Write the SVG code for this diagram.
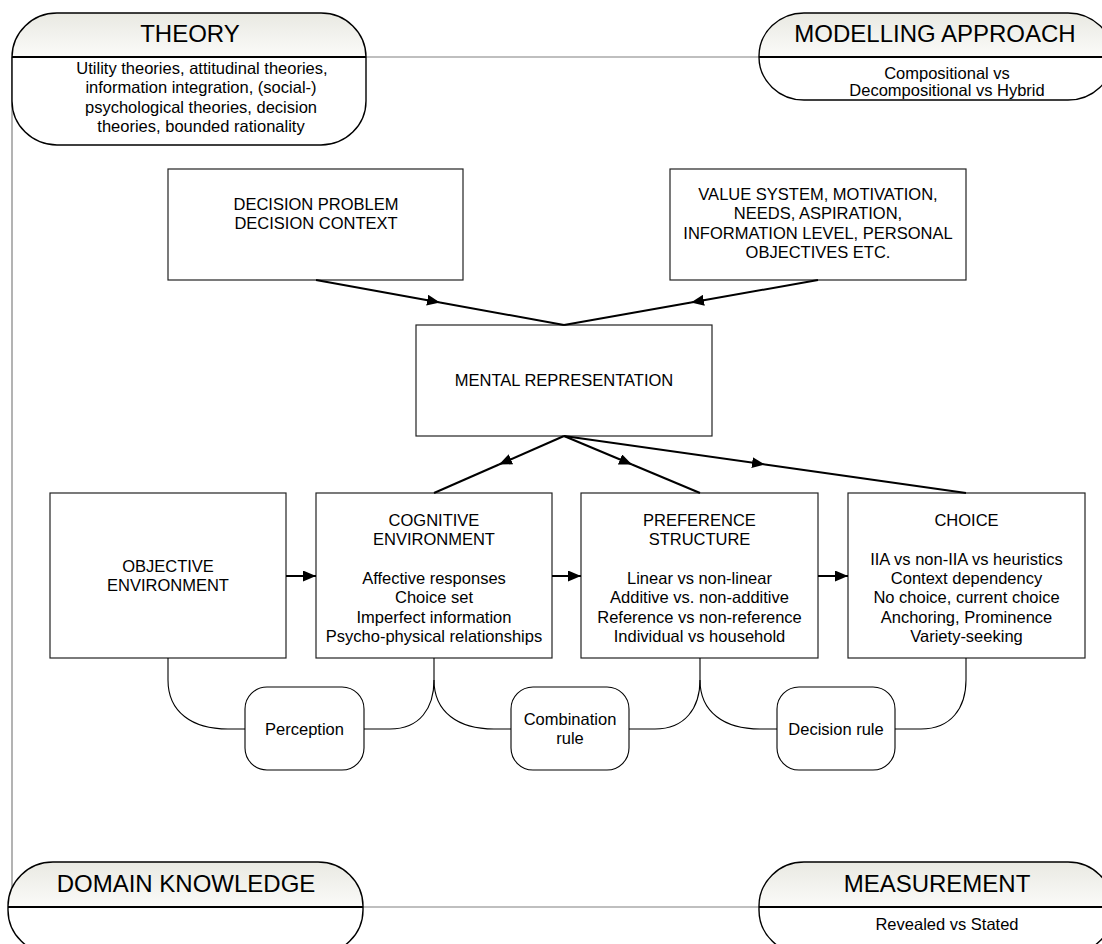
<svg xmlns="http://www.w3.org/2000/svg" width="1102" height="944" viewBox="0 0 1102 944">
<style>
  text { font-family: "Liberation Sans", Arial, sans-serif; fill: #000; }
  .title { font-size: 24px; text-anchor: middle; }
  .sub { font-size: 16.5px; text-anchor: middle; }
  .txt { font-size: 16.5px; text-anchor: middle; }
  .box { fill: #fff; stroke: #222; stroke-width: 1.2; }
  .rbox { fill: #fff; stroke: #000; stroke-width: 1.1; }
  .outline { fill: none; stroke: #000; stroke-width: 1.4; }
  .bg { fill: #fff; stroke: none; }
  .head { fill: url(#hg); stroke: none; }
  .div { stroke: #000; stroke-width: 2; }
  .frame { fill: none; stroke: #808080; stroke-width: 1.2; }
  .arr { fill: none; stroke: #000; stroke-width: 2; }
  .brk { fill: none; stroke: #000; stroke-width: 1.1; }
</style>
<defs>
  <linearGradient id="hg" x1="0" y1="0" x2="0" y2="1">
    <stop offset="0" stop-color="#e9e9e2"/>
    <stop offset="1" stop-color="#fbfbf9"/>
  </linearGradient>
  <marker id="ah" markerUnits="userSpaceOnUse" markerWidth="14" markerHeight="11" refX="13" refY="5.5" orient="auto">
    <path d="M0,0 L13,5.5 L0,11 Z" fill="#000"/>
  </marker>
</defs>
<rect width="1102" height="944" fill="#fff"/>

<g id="frame">
  <path class="frame" d="M366,57 H759"/>
  <path class="frame" d="M12,57 V900"/>
  <path class="frame" d="M363,907 H759"/>
</g>

<g id="theory">
  <rect class="bg" x="12" y="13" width="354" height="132" rx="45" ry="44"/>
  <path class="head" d="M12,57 A45,44 0 0 1 57,13 H321 A45,44 0 0 1 366,57 Z"/>
  <line class="div" x1="12" y1="57" x2="366" y2="57"/>
  <rect class="outline" x="12" y="13" width="354" height="132" rx="45" ry="44"/>
  <text class="title" x="190" y="42">THEORY</text>
  <text class="sub" x="202" y="74">Utility theories, attitudinal theories,</text>
  <text class="sub" x="201" y="93.3">information integration, (social-)</text>
  <text class="sub" x="201" y="112.6">psychological theories, decision</text>
  <text class="sub" x="201" y="132">theories, bounded rationality</text>
</g>

<g id="modelling">
  <rect class="bg" x="759" y="13" width="354" height="87" rx="45" ry="43"/>
  <path class="head" d="M759,56 A45,43 0 0 1 804,13 H1068 A45,43 0 0 1 1113,56 V57 H759 Z"/>
  <line class="div" x1="759" y1="57" x2="1113" y2="57"/>
  <rect class="outline" x="759" y="13" width="354" height="87" rx="45" ry="43"/>
  <text class="title" x="935" y="42">MODELLING APPROACH</text>
  <text class="sub" x="947" y="79">Compositional vs</text>
  <text class="sub" x="947" y="96">Decompositional vs Hybrid</text>
</g>

<g id="domain">
  <rect class="bg" x="8" y="862" width="355" height="92" rx="45" ry="44"/>
  <path class="head" d="M8,906 A45,44 0 0 1 53,862 H318 A45,44 0 0 1 363,906 V907 H8 Z"/>
  <line class="div" x1="8" y1="907" x2="363" y2="907"/>
  <rect class="outline" x="8" y="862" width="355" height="92" rx="45" ry="44"/>
  <text class="title" x="186" y="892">DOMAIN KNOWLEDGE</text>
</g>

<g id="measurement">
  <rect class="bg" x="759" y="862" width="354" height="92" rx="45" ry="44"/>
  <path class="head" d="M759,906 A45,44 0 0 1 804,862 H1068 A45,44 0 0 1 1113,906 V907 H759 Z"/>
  <line class="div" x1="759" y1="907" x2="1113" y2="907"/>
  <rect class="outline" x="759" y="862" width="354" height="92" rx="45" ry="44"/>
  <text class="title" x="937" y="892">MEASUREMENT</text>
  <text class="sub" x="947" y="930">Revealed vs Stated</text>
</g>

<g id="decision-problem">
  <rect class="box" x="168" y="169" width="295" height="111"/>
  <text class="txt" x="316" y="210">DECISION PROBLEM</text>
  <text class="txt" x="316" y="229">DECISION CONTEXT</text>
</g>

<g id="value-system">
  <rect class="box" x="670" y="169" width="296" height="111"/>
  <text class="txt" x="818" y="200">VALUE SYSTEM, MOTIVATION,</text>
  <text class="txt" x="818" y="219">NEEDS, ASPIRATION,</text>
  <text class="txt" x="818" y="238.5">INFORMATION LEVEL, PERSONAL</text>
  <text class="txt" x="818" y="257.5">OBJECTIVES ETC.</text>
</g>

<g id="mental-representation">
  <rect class="box" x="416" y="325" width="296" height="111"/>
  <text class="txt" x="564" y="386">MENTAL REPRESENTATION</text>
</g>

<g id="objective-environment">
  <rect class="box" x="50" y="493" width="236" height="165"/>
  <text class="txt" x="168" y="572">OBJECTIVE</text>
  <text class="txt" x="168" y="591">ENVIRONMENT</text>
</g>

<g id="cognitive-environment">
  <rect class="box" x="316" y="493" width="236" height="165"/>
  <text class="txt" x="434" y="526">COGNITIVE</text>
  <text class="txt" x="434" y="545.3">ENVIRONMENT</text>
  <text class="txt" x="434" y="584">Affective responses</text>
  <text class="txt" x="434" y="603.3">Choice set</text>
  <text class="txt" x="434" y="622.6">Imperfect information</text>
  <text class="txt" x="434" y="642">Psycho-physical relationships</text>
</g>

<g id="preference-structure">
  <rect class="box" x="581" y="493" width="237" height="165"/>
  <text class="txt" x="699.5" y="526">PREFERENCE</text>
  <text class="txt" x="699.5" y="545.3">STRUCTURE</text>
  <text class="txt" x="699.5" y="584">Linear vs non-linear</text>
  <text class="txt" x="699.5" y="603.3">Additive vs. non-additive</text>
  <text class="txt" x="699.5" y="622.6">Reference vs non-reference</text>
  <text class="txt" x="699.5" y="642">Individual vs household</text>
</g>

<g id="choice">
  <rect class="box" x="848" y="493" width="237" height="165"/>
  <text class="txt" x="966.5" y="526">CHOICE</text>
  <text class="txt" x="966.5" y="564.6">IIA vs non-IIA vs heuristics</text>
  <text class="txt" x="966.5" y="584">Context dependency</text>
  <text class="txt" x="966.5" y="603.3">No choice, current choice</text>
  <text class="txt" x="966.5" y="622.6">Anchoring, Prominence</text>
  <text class="txt" x="966.5" y="642">Variety-seeking</text>
</g>

<g id="perception">
  <rect class="rbox" x="245" y="687" width="119" height="83" rx="22" ry="22"/>
  <text class="txt" x="304.5" y="734.5">Perception</text>
</g>

<g id="combination-rule">
  <rect class="rbox" x="511" y="687" width="118" height="83" rx="22" ry="22"/>
  <text class="txt" x="570" y="725">Combination</text>
  <text class="txt" x="570" y="744">rule</text>
</g>

<g id="decision-rule">
  <rect class="rbox" x="777" y="687" width="118" height="83" rx="22" ry="22"/>
  <text class="txt" x="836" y="734.5">Decision rule</text>
</g>

<g id="connectors">
  <line class="arr" x1="316" y1="280" x2="440" y2="302.5" marker-end="url(#ah)"/>
  <line class="arr" x1="440" y1="302.5" x2="564" y2="325"/>
  <line class="arr" x1="818" y1="280" x2="691" y2="302.5" marker-end="url(#ah)"/>
  <line class="arr" x1="691" y1="302.5" x2="564" y2="325"/>
  <line class="arr" x1="564" y1="436" x2="499" y2="464.5" marker-end="url(#ah)"/>
  <line class="arr" x1="499" y1="464.5" x2="434" y2="493"/>
  <line class="arr" x1="564" y1="436" x2="632" y2="464.5" marker-end="url(#ah)"/>
  <line class="arr" x1="632" y1="464.5" x2="700" y2="493"/>
  <line class="arr" x1="564" y1="436" x2="765" y2="464.5" marker-end="url(#ah)"/>
  <line class="arr" x1="765" y1="464.5" x2="966" y2="493"/>
  <line class="arr" x1="286" y1="576" x2="316" y2="576" marker-end="url(#ah)"/>
  <line class="arr" x1="552" y1="576" x2="581" y2="576" marker-end="url(#ah)"/>
  <line class="arr" x1="818" y1="576" x2="848" y2="576" marker-end="url(#ah)"/>
  <path class="brk" d="M168,658 V680 C168,712 192,729 228,729 H245"/>
  <path class="brk" d="M364,729 H390 C420,729 434,708 434,680 V658"/>
  <path class="brk" d="M434,680 C434,712 458,729 494,729 H511"/>
  <path class="brk" d="M629,729 H655 C685,729 700,708 700,680 V658"/>
  <path class="brk" d="M700,680 C700,712 724,729 760,729 H777"/>
  <path class="brk" d="M895,729 H921 C951,729 966,708 966,680 V658"/>
</g>
</svg>
